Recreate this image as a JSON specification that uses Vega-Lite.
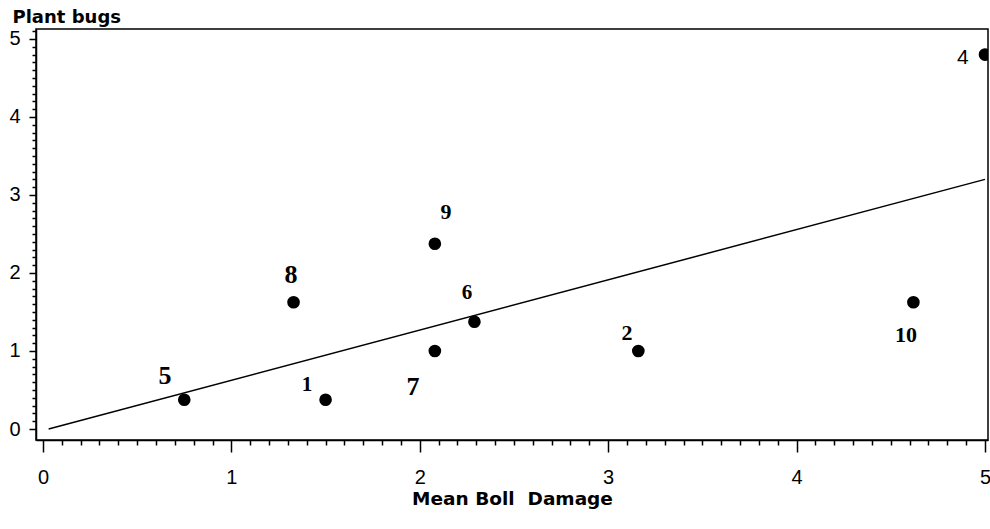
{
  "$schema": "https://vega.github.io/schema/vega-lite/v6.json",
  "width": 952,
  "height": 411,
  "autosize": {"type": "none"},
  "padding": {"left": 36, "top": 29, "right": 2, "bottom": 89},
  "background": "white",
  "config": {
    "view": {"stroke": "black", "strokeWidth": 1.5},
    "axis": {"grid": false, "domainColor": "black", "tickColor": "black", "labelColor": "black", "titleColor": "black", "domainWidth": 1.5, "tickWidth": 1.5}
  },
  "datasets": {
    "pts": [
      {"id": "1", "damage": 1.5, "bugs": 0.375},
      {"id": "2", "damage": 3.16, "bugs": 1.0},
      {"id": "4", "damage": 5.0, "bugs": 4.8},
      {"id": "5", "damage": 0.75, "bugs": 0.375},
      {"id": "6", "damage": 2.29, "bugs": 1.375},
      {"id": "7", "damage": 2.08, "bugs": 1.0},
      {"id": "8", "damage": 1.33, "bugs": 1.625},
      {"id": "9", "damage": 2.08, "bugs": 2.375},
      {"id": "10", "damage": 4.62, "bugs": 1.625}
    ],
    "labels": [
      {"id": "5", "lx": 0.648, "ly": 0.68},
      {"id": "8", "lx": 1.316, "ly": 1.97},
      {"id": "1", "lx": 1.401, "ly": 0.56},
      {"id": "7", "lx": 1.964, "ly": 0.54},
      {"id": "6", "lx": 2.25, "ly": 1.74},
      {"id": "2", "lx": 3.1, "ly": 1.23},
      {"id": "10", "lx": 4.581, "ly": 1.2},
      {"id": "4", "lx": 4.883, "ly": 4.76},
      {"id": "9", "lx": 2.139, "ly": 2.78}
    ],
    "fit": [
      {"damage": 0.03, "bugs": 0.0},
      {"damage": 5.0, "bugs": 3.2}
    ]
  },
  "resolve": {"axis": {"x": "independent", "y": "independent"}},
  "layer": [
    {
      "data": {"name": "fit"},
      "mark": {"type": "line", "color": "black", "strokeWidth": 1.5},
      "encoding": {
        "x": {"field": "damage", "type": "quantitative",
          "scale": {"domain": [-0.037, 5.016], "nice": false, "zero": false},
          "axis": {"orient": "bottom", "values": [0, 1, 2, 3, 4, 5], "title": "Mean Boll\u00a0 Damage", "tickSize": 12, "labelPadding": 31, "labelBaseline": "alphabetic", "labelFont": "Liberation Sans", "labelFontSize": 20, "labelFontWeight": "normal", "titleFont": "DejaVu Sans", "titleFontSize": 18.5, "titleFontWeight": "bold", "titleBaseline": "alphabetic", "titleY": 64, "labelFlush": false}},
        "y": {"field": "bugs", "type": "quantitative",
          "scale": {"domain": [-0.141, 5.128], "nice": false, "zero": false},
          "axis": {"orient": "left", "values": [0, 1, 2, 3, 4, 5], "title": "Plant bugs", "tickSize": 7, "labelPadding": 9, "labelFont": "Liberation Sans", "labelFontSize": 20, "titleFont": "DejaVu Sans", "titleFontSize": 18, "titleFontWeight": "bold", "titleAngle": 0, "titleAlign": "left", "titleBaseline": "alphabetic", "titleX": -24, "titleY": -7, "labelFlush": false}}
      }
    },
    {
      "data": {"name": "pts"},
      "mark": {"type": "point", "filled": true, "shape": "circle", "color": "black", "opacity": 1, "size": 160, "clip": true},
      "encoding": {
        "x": {"field": "damage", "type": "quantitative",
          "axis": {"orient": "bottom", "values": [0.1,0.2,0.3,0.4,0.5,0.6,0.7,0.8,0.9,1.1,1.2,1.3,1.4,1.5,1.6,1.7,1.8,1.9,2.1,2.2,2.3,2.4,2.5,2.6,2.7,2.8,2.9,3.1,3.2,3.3,3.4,3.5,3.6,3.7,3.8,3.9,4.1,4.2,4.3,4.4,4.5,4.6,4.7,4.8,4.9], "labels": false, "title": null, "tickSize": 5, "domain": false}},
        "y": {"field": "bugs", "type": "quantitative",
          "axis": {"orient": "left", "values": [0.1,0.2,0.3,0.4,0.5,0.6,0.7,0.8,0.9,1.1,1.2,1.3,1.4,1.5,1.6,1.7,1.8,1.9,2.1,2.2,2.3,2.4,2.5,2.6,2.7,2.8,2.9,3.1,3.2,3.3,3.4,3.5,3.6,3.7,3.8,3.9,4.1,4.2,4.3,4.4,4.5,4.6,4.7,4.8,4.9,5.1], "labels": false, "title": null, "tickSize": 4, "domain": false}}
      }
    },
    {
      "data": {"name": "labels"},
      "transform": [{"filter": {"field": "id", "oneOf": ["5", "8", "7"]}}],
      "mark": {"type": "text", "font": "Liberation Serif", "fontWeight": "bold", "fontSize": 26, "color": "black", "align": "center", "baseline": "middle"},
      "encoding": {
        "x": {"field": "lx", "type": "quantitative", "axis": null},
        "y": {"field": "ly", "type": "quantitative", "axis": null},
        "text": {"field": "id"}
      }
    },
    {
      "data": {"name": "labels"},
      "transform": [{"filter": {"field": "id", "oneOf": ["2", "10", "9"]}}],
      "mark": {"type": "text", "font": "Liberation Serif", "fontWeight": "bold", "fontSize": 22, "color": "black", "align": "center", "baseline": "middle"},
      "encoding": {
        "x": {"field": "lx", "type": "quantitative", "axis": null},
        "y": {"field": "ly", "type": "quantitative", "axis": null},
        "text": {"field": "id"}
      }
    },
    {
      "data": {"name": "labels"},
      "transform": [{"filter": {"field": "id", "oneOf": ["1", "6"]}}],
      "mark": {"type": "text", "font": "Liberation Serif", "fontWeight": "bold", "fontSize": 21, "color": "black", "align": "center", "baseline": "middle"},
      "encoding": {
        "x": {"field": "lx", "type": "quantitative", "axis": null},
        "y": {"field": "ly", "type": "quantitative", "axis": null},
        "text": {"field": "id"}
      }
    },
    {
      "data": {"name": "labels"},
      "transform": [{"filter": {"field": "id", "equal": "4"}}],
      "mark": {"type": "text", "font": "Liberation Sans", "fontWeight": "normal", "fontSize": 21, "color": "black", "align": "center", "baseline": "middle"},
      "encoding": {
        "x": {"field": "lx", "type": "quantitative", "axis": null},
        "y": {"field": "ly", "type": "quantitative", "axis": null},
        "text": {"field": "id"}
      }
    }
  ]
}
